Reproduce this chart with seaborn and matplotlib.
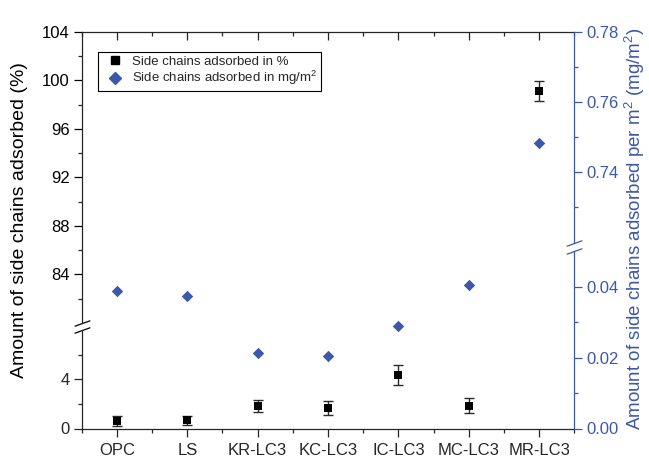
import numpy as np
import pandas as pd
import matplotlib
matplotlib.use("Agg")
import matplotlib.pyplot as plt
import seaborn as sns
from matplotlib.lines import Line2D
from matplotlib.ticker import FixedLocator, FormatStrFormatter

# ---------------- data ----------------
samples = ["OPC", "LS", "KR-LC3", "KC-LC3", "IC-LC3", "MC-LC3", "MR-LC3"]
pct = [0.60, 0.68, 1.82, 1.68, 4.35, 1.85, 99.1]
pct_err = [0.40, 0.38, 0.50, 0.60, 0.80, 0.60, 0.80]
mg_m2 = [0.0389, 0.0375, 0.0212, 0.0205, 0.0289, 0.0404, 0.7484]

left_major_top = [84, 88, 92, 96, 100, 104]
left_minor_top = [82, 86, 90, 94, 98, 102]
left_major_bot = [0, 4]
left_minor_bot = [2, 6]
right_major_top = [0.74, 0.76, 0.78]
right_minor_top = [0.73, 0.75, 0.77]
right_major_bot = [0.00, 0.02, 0.04]
right_minor_bot = [0.01, 0.03]

BLUE = "#3D58A8"

sns.set_theme(style="ticks")
plt.rcParams["font.family"] = ["Liberation Sans", "DejaVu Sans"]
plt.rcParams["mathtext.fontset"] = "custom"
plt.rcParams["mathtext.rm"] = "Liberation Sans"
plt.rcParams["mathtext.it"] = "Liberation Sans:italic"
plt.rcParams["axes.linewidth"] = 0.9

df = pd.DataFrame({"sample": samples, "pct": pct, "err": pct_err, "mg": mg_m2})
df["pos"] = np.arange(len(samples))

W, H = 649, 458
fig = plt.figure(figsize=(W / 100, H / 100), dpi=100)


def rect(l, t, r, b):
    return [l / W, 1 - b / H, (r - l) / W, (b - t) / H]


L, R = 81.7, 574.3
ax_lu = fig.add_axes(rect(L, 31.7, R, 323.0))
ax_ll = fig.add_axes(rect(L, 329.5, R, 428.5))
ax_ru = fig.add_axes(rect(L, 31.7, R, 242.5))
ax_rl = fig.add_axes(rect(L, 250.7, R, 428.5))

for ax in (ax_lu, ax_ll, ax_ru, ax_rl):
    ax.patch.set_visible(False)
    for s in ax.spines.values():
        s.set_visible(False)

# squares with error bars (left axis)
for ax in (ax_lu, ax_ll):
    ax.errorbar(df["pos"], df["pct"], yerr=df["err"], fmt="none",
                ecolor="#2a2a2a", elinewidth=1.0, capsize=3.8, capthick=1.0, zorder=2)
    sns.scatterplot(data=df, x="pos", y="pct", marker="s", s=36, color="black",
                    linewidth=0, ax=ax, legend=False, zorder=3)

# diamonds (right axis)
for ax in (ax_ru, ax_rl):
    sns.scatterplot(data=df, x="pos", y="mg", marker="D", s=34, color=BLUE,
                    linewidth=0, ax=ax, legend=False, zorder=3)

for ax in (ax_lu, ax_ll, ax_ru, ax_rl):
    ax.set_xlim(-0.5, 6.5)
    ax.set_xlabel("")
    ax.set_ylabel("")

ax_lu.set_ylim(80.0, 104)
ax_ll.set_ylim(0, 8.08)
ax_ru.set_ylim(0.7200, 0.78)
ax_rl.set_ylim(0, 0.0502)

xt_major = list(range(len(samples)))
xt_minor = [i - 0.5 for i in range(len(samples) + 1)]

# ---- left upper: left spine + top spine
ax_lu.spines["left"].set_visible(True)
ax_lu.spines["top"].set_visible(True)
ax_lu.yaxis.set_major_locator(FixedLocator(left_major_top))
ax_lu.yaxis.set_minor_locator(FixedLocator(left_minor_top))
ax_lu.yaxis.set_major_formatter(FormatStrFormatter("%d"))
ax_lu.tick_params(axis="y", which="major", direction="out", length=5.5, width=0.9,
                  labelsize=12, pad=3, left=True, right=False, colors="black")
ax_lu.tick_params(axis="y", which="minor", direction="out", length=3, width=0.9, left=True)
ax_lu.xaxis.set_ticks_position("top")
ax_lu.xaxis.set_major_locator(FixedLocator(xt_major))
ax_lu.xaxis.set_minor_locator(FixedLocator(xt_minor))
ax_lu.tick_params(axis="x", which="major", direction="in", length=5.5, width=0.9,
                  top=True, bottom=False, labeltop=False, labelbottom=False)
ax_lu.tick_params(axis="x", which="minor", direction="in", length=3, width=0.9,
                  top=True, bottom=False)

# ---- left lower: left spine + bottom spine
ax_ll.spines["left"].set_visible(True)
ax_ll.spines["bottom"].set_visible(True)
ax_ll.yaxis.set_major_locator(FixedLocator(left_major_bot))
ax_ll.yaxis.set_minor_locator(FixedLocator(left_minor_bot))
ax_ll.yaxis.set_major_formatter(FormatStrFormatter("%d"))
ax_ll.tick_params(axis="y", which="major", direction="out", length=5.5, width=0.9,
                  labelsize=12, pad=3, left=True, right=False)
ax_ll.tick_params(axis="y", which="minor", direction="out", length=3, width=0.9, left=True)
ax_ll.set_xticks(xt_major)
ax_ll.set_xticklabels(samples)
ax_ll.xaxis.set_minor_locator(FixedLocator(xt_minor))
ax_ll.tick_params(axis="x", which="major", direction="out", length=5.5, width=0.9,
                  labelsize=12, pad=5, bottom=True, top=False)
ax_ll.tick_params(axis="x", which="minor", direction="out", length=3, width=0.9, bottom=True)

# ---- right axes (blue)
for ax, maj, mnr in ((ax_ru, right_major_top, right_minor_top),
                     (ax_rl, right_major_bot, right_minor_bot)):
    ax.spines["right"].set_visible(True)
    ax.spines["right"].set_color(BLUE)
    ax.yaxis.tick_right()
    ax.yaxis.set_major_locator(FixedLocator(maj))
    ax.yaxis.set_minor_locator(FixedLocator(mnr))
    ax.yaxis.set_major_formatter(FormatStrFormatter("%.2f"))
    ax.tick_params(axis="y", which="major", direction="out", length=5.5, width=0.9,
                   labelsize=12, pad=3, colors=BLUE, right=True, left=False)
    ax.tick_params(axis="y", which="minor", direction="out", length=3, width=0.9,
                   colors=BLUE, right=True, left=False)
    ax.tick_params(axis="x", which="both", bottom=False, top=False,
                   labelbottom=False, labeltop=False)

# ---- axis breaks
brk = dict(marker=[(-1, -0.36), (1, 0.36)], markersize=11.3, linestyle="none",
           mew=0.9, clip_on=False)
ax_lu.plot([0], [0], transform=ax_lu.transAxes, color="black", mec="black", **brk)
ax_ll.plot([0], [1], transform=ax_ll.transAxes, color="black", mec="black", **brk)
ax_ru.plot([1], [0], transform=ax_ru.transAxes, color=BLUE, mec=BLUE, **brk)
ax_rl.plot([1], [1], transform=ax_rl.transAxes, color=BLUE, mec=BLUE, **brk)

# ---- axis titles
fig.text(20 / W, 1 - 220.5 / H, "Amount of side chains adsorbed (%)",
         rotation=90, ha="center", va="center", fontsize=14, color="black")
fig.text(635 / W, 1 - 229 / H,
         r"Amount of side chains adsorbed per m$^\mathregular{2}$ (mg/m$^\mathregular{2}$)",
         rotation=90, ha="center", va="center", fontsize=13.5, color=BLUE)

# ---- legend
handles = [
    Line2D([], [], marker="s", linestyle="none", color="black", markersize=6),
    Line2D([], [], marker="D", linestyle="none", color=BLUE, markersize=5.8),
]
labels = ["Side chains adsorbed in %", r"Side chains adsorbed in mg/m$^\mathregular{2}$"]
leg = fig.legend(handles, labels, loc="upper left",
                 bbox_to_anchor=(98.3 / W, 1 - 51.7 / H), bbox_transform=fig.transFigure,
                 fontsize=9.5, frameon=True, fancybox=False, framealpha=1,
                 edgecolor="black", borderpad=0.3, labelspacing=0.1,
                 handlelength=1.9, handletextpad=0.35, borderaxespad=0)
leg.get_frame().set_linewidth(0.8)

fig.savefig("out.png", dpi=100)
